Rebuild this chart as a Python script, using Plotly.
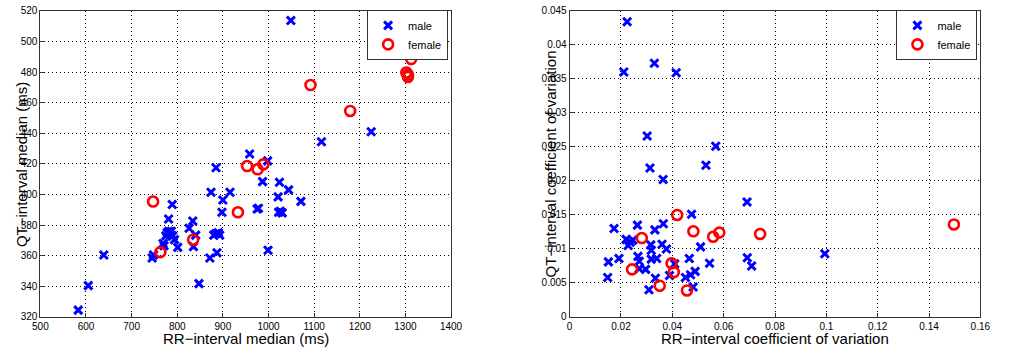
import plotly.graph_objects as go

# ---- Left panel: medians (ms) ----
male_rr_med = [583, 605, 639, 745, 748, 769, 771, 775, 778, 781, 784, 787, 790, 781, 789,
               794, 801, 826, 834, 840.5, 835.5, 847.6, 871.5, 887, 880, 885, 890, 893,
               874, 885, 900, 898, 915.6, 958.6, 975, 978, 987, 998, 999, 1021, 1024,
               1044, 1071, 1022, 1026, 1030, 1049, 1116, 1225]
male_qt_med = [324.5, 340.5, 360.5, 358.5, 360.5, 368, 366.5, 373, 375, 376, 374, 376, 373,
               384, 393.5, 370.5, 365.5, 378, 382.7, 373.5, 366, 341.8, 358.5, 362, 373.5,
               374.5, 375, 373.5, 401.5, 417.5, 396.4, 388.4, 401.5, 426.5, 390.5, 391,
               408.4, 422, 363.6, 398.5, 408, 403, 395.5, 388.4, 389, 388, 513.7, 434.5, 441]
female_rr_med = [747, 763, 834.7, 933, 953, 976, 988.6, 1092, 1179, 1302, 1305.5, 1305.5, 1312.6]
female_qt_med = [395.4, 362.4, 370.5, 388.4, 418.6, 416.5, 419.7, 471.5, 454.6, 479.7, 478.3,
                 476.8, 488.5]

# ---- Right panel: coefficients of variation ----
male_rr_cv = [0.0224, 0.0211, 0.0330, 0.0415, 0.0302, 0.0569, 0.0531, 0.0313, 0.0364, 0.0691,
              0.0475, 0.0173, 0.0264, 0.0365, 0.0332, 0.0220, 0.0246, 0.0228, 0.0236, 0.0316,
              0.0318, 0.0360, 0.0377, 0.0510, 0.0692, 0.0709, 0.0994, 0.0151, 0.0192, 0.0266,
              0.0271, 0.0318, 0.0339, 0.0466, 0.0545, 0.0409, 0.0271, 0.0296, 0.0148, 0.0334,
              0.0389, 0.0451, 0.0471, 0.0489, 0.0309, 0.0481]
male_qt_cv = [0.0434, 0.0360, 0.0373, 0.0359, 0.0266, 0.0251, 0.0223, 0.0219, 0.0202, 0.0169,
              0.0151, 0.0130, 0.0135, 0.0137, 0.0128, 0.0114, 0.0113, 0.0105, 0.0110, 0.0106,
              0.0098, 0.0107, 0.0100, 0.0103, 0.0087, 0.0075, 0.0093, 0.0081, 0.0086, 0.0089,
              0.0082, 0.0085, 0.0086, 0.0086, 0.0079, 0.0078, 0.0071, 0.0070, 0.0058, 0.0057,
              0.0061, 0.0058, 0.0062, 0.0067, 0.0040, 0.0044]
female_rr_cv = [0.0419, 0.0482, 0.0559, 0.0583, 0.0742, 0.0281, 0.0243, 0.0397, 0.0406,
                0.0351, 0.0457, 0.1497]
female_qt_cv = [0.0150, 0.0126, 0.0118, 0.0124, 0.0122, 0.0116, 0.0070, 0.0079, 0.0066,
                0.0046, 0.0039, 0.0136]

left_xticks = [500, 600, 700, 800, 900, 1000, 1100, 1200, 1300, 1400]
left_yticks = [320, 340, 360, 380, 400, 420, 440, 460, 480, 500, 520]
right_xticks = [0, 0.02, 0.04, 0.06, 0.08, 0.1, 0.12, 0.14, 0.16]
right_xlabels = ["0", "0.02", "0.04", "0.06", "0.08", "0.1", "0.12", "0.14", "0.16"]
right_yticks = [0, 0.005, 0.01, 0.015, 0.02, 0.025, 0.03, 0.035, 0.04, 0.045]
right_ylabels = ["0", "0.005", "0.01", "0.015", "0.02", "0.025", "0.03", "0.035", "0.04", "0.045"]

FONT = "Liberation Sans, Arial, sans-serif"
male_marker = dict(symbol="x-thin", size=8, line=dict(width=3, color="#0000ff"), color="#0000ff")
female_marker = dict(symbol="circle-open", size=10, line=dict(width=2.6, color="#ff0000"), color="#ff0000")

fig = go.Figure()
fig.add_trace(go.Scatter(x=male_rr_med, y=male_qt_med, mode="markers", name="male",
                         marker=male_marker, xaxis="x", yaxis="y", legend="legend"))
fig.add_trace(go.Scatter(x=female_rr_med, y=female_qt_med, mode="markers", name="female",
                         marker=female_marker, xaxis="x", yaxis="y", legend="legend"))
fig.add_trace(go.Scatter(x=male_rr_cv, y=male_qt_cv, mode="markers", name="male",
                         marker=male_marker, xaxis="x2", yaxis="y2", legend="legend2"))
fig.add_trace(go.Scatter(x=female_rr_cv, y=female_qt_cv, mode="markers", name="female",
                         marker=female_marker, xaxis="x2", yaxis="y2", legend="legend2"))

W, H = 1010, 356
def px_x(p): return p / W
def px_y(p): return 1 - p / H

axis_common = dict(showline=True, linecolor="#333333", linewidth=1, mirror=True,
                   ticks="inside", ticklen=4, tickcolor="#333333",
                   showgrid=True, gridcolor="#000000", griddash="1px,3px", gridwidth=1,
                   zeroline=False, tickfont=dict(family=FONT, size=10, color="#000000"))

legend_common = dict(xanchor="right", yanchor="top", bgcolor="white", bordercolor="#333333",
                     borderwidth=1, font=dict(family=FONT, size=11), tracegroupgap=0,
                     itemwidth=30)

TITLE_FONT = dict(family=FONT, size=15)

fig.update_layout(
    width=W, height=H,
    margin=dict(l=0, r=0, t=0, b=0),
    paper_bgcolor="white", plot_bgcolor="white",
    font=dict(family=FONT, color="#000000"),
    xaxis=dict(domain=[px_x(33), px_x(452)], range=[500, 1400], tickvals=left_xticks,
               anchor="y", **axis_common),
    yaxis=dict(domain=[px_y(321), px_y(6)], range=[320, 520], tickvals=left_yticks,
               anchor="x", **axis_common),
    xaxis2=dict(domain=[px_x(573), px_x(992)], range=[0, 0.16], tickvals=right_xticks,
                ticktext=right_xlabels, anchor="y2", **axis_common),
    yaxis2=dict(domain=[px_y(321), px_y(6)], range=[0, 0.045], tickvals=right_yticks,
                ticktext=right_ylabels, anchor="x2", **axis_common),
    legend=dict(x=px_x(449), y=px_y(5), **legend_common),
    legend2=dict(x=px_x(989), y=px_y(5), **legend_common),
    annotations=[
        dict(text="RR\u2212interval median (ms)", x=px_x(243), y=px_y(343), xref="paper", yref="paper",
             xanchor="center", yanchor="middle", showarrow=False, font=TITLE_FONT),
        dict(text="QT\u2212interval median (ms)", x=px_x(14), y=px_y(164), xref="paper", yref="paper",
             xanchor="center", yanchor="middle", showarrow=False, textangle=-90, font=TITLE_FONT),
        dict(text="RR\u2212interval coefficient of variation", x=px_x(782), y=px_y(343), xref="paper",
             yref="paper", xanchor="center", yanchor="middle", showarrow=False, font=TITLE_FONT),
        dict(text="QT\u2212interval coefficient of variation", x=px_x(553), y=px_y(164), xref="paper",
             yref="paper", xanchor="center", yanchor="middle", showarrow=False, textangle=-90,
             font=TITLE_FONT),
    ],
)

fig.write_html("out.html")
